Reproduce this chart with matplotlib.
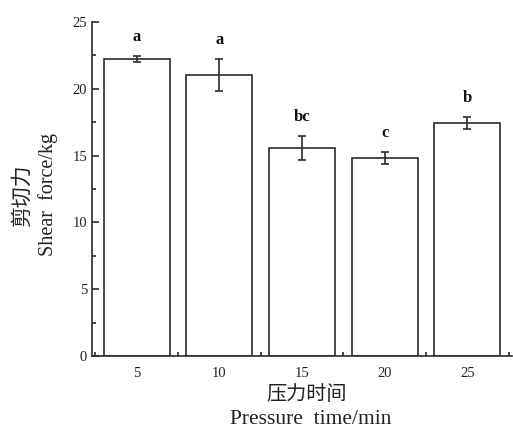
import matplotlib
matplotlib.use("Agg")
import matplotlib.pyplot as plt
from matplotlib.ticker import MultipleLocator

times = [5, 10, 15, 20, 25]
shear = [22.23, 21.03, 15.56, 14.82, 17.43]
err = [0.24, 1.21, 0.88, 0.45, 0.43]
letters = ["a", "a", "bc", "c", "b"]

plt.rcParams['font.family'] = ['Liberation Serif', 'Noto Sans CJK SC']

fig = plt.figure(figsize=(5.13, 4.32), dpi=100)
ax = fig.add_axes([92/513, 1-356/432, 420/513, 334/432])

col = '#2b2b2b'
ax.bar(times, shear, width=4, color='white', edgecolor=col, linewidth=1.2,
       yerr=err, error_kw=dict(ecolor=col, elinewidth=1.2, capsize=3, capthick=1.2), zorder=2)

for x, y, e, t in zip(times, shear, err, letters):
    ax.annotate(t, (x, y + e), xytext=(0, 8), textcoords='offset points',
                ha='center', va='bottom', fontsize=12, fontweight='bold', color='#111111')

ax.set_xlim(2.3, 27.7)
ax.set_ylim(0, 25)
ax.xaxis.set_major_locator(MultipleLocator(5))
ax.xaxis.set_minor_locator(MultipleLocator(2.5))
ax.yaxis.set_major_locator(MultipleLocator(5))
ax.yaxis.set_minor_locator(MultipleLocator(2.5))
ax.tick_params(which='both', direction='in', color=col, width=1.2, labelsize=10.5, labelcolor='#222222')
ax.tick_params(which='major', length=5)
ax.tick_params(which='minor', length=3)
ax.tick_params(axis='x', pad=8)
ax.spines['top'].set_visible(False)
ax.spines['right'].set_visible(False)
for s in ['left', 'bottom']:
    ax.spines[s].set_color(col)
    ax.spines[s].set_linewidth(1.2)

fig.text(307/513, 1-395/432, "压力时间", ha='center', va='center', fontsize=14.5,
         family=['Noto Sans CJK SC'], fontweight='light', color='#222222')
fig.text(311/513, 1-420/432, "Pressure  time/min", ha='center', va='center', fontsize=15.5, color='#222222')
fig.text(22/513, 1-195/432, "剪切力", ha='center', va='center', rotation=90, fontsize=15,
         family=['Noto Sans CJK SC'], fontweight='light', color='#222222')
fig.text(48/513, 1-194/432, "Shear  force/kg", ha='center', va='center', rotation=90, fontsize=14.5, color='#222222')

fig.savefig("out.png", dpi=100)
